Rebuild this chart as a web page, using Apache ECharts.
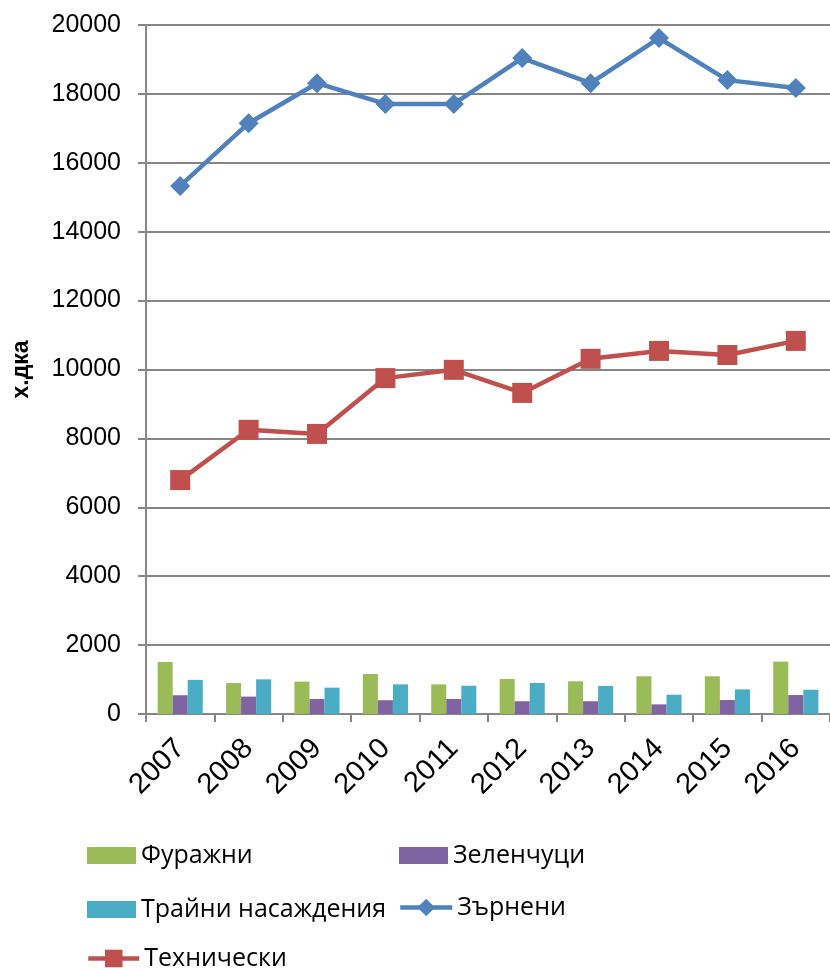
<!DOCTYPE html>
<html>
<head>
<meta charset="utf-8">
<script src="https://cdn.jsdelivr.net/npm/echarts@6/dist/echarts.min.js"></script>
<style>html,body{margin:0;padding:0;background:#fff}#c{width:830px;height:972px}</style>
</head>
<body>
<div id="c"></div>
<script>
const years = ['2007','2008','2009','2010','2011','2012','2013','2014','2015','2016'];
const furazhni = [1510, 900, 940, 1160, 860, 1015, 950, 1095, 1095, 1520];
const zelenchutsi = [545, 505, 435, 400, 435, 370, 370, 280, 405, 550];
const traini = [990, 1005, 765, 860, 820, 900, 815, 560, 715, 705];
const zarneni = [15330, 17150, 18310, 17710, 17710, 19040, 18310, 19620, 18400, 18170];
const tehnicheski = [6790, 8250, 8130, 9750, 9990, 9320, 10310, 10540, 10420, 10830];
const yTicks = [0, 2000, 4000, 6000, 8000, 10000, 12000, 14000, 16000, 18000, 20000];

const gray = '#868686';
const legendFont = {fontFamily: 'Open Sans', fontSize: 25, color: '#000'};
function lg(name, left, top, w, h, icon) {
  const o = {data: [name], left: left, top: top, itemWidth: w, itemHeight: h, itemGap: 0,
    textStyle: legendFont, selectedMode: false, padding: 0, lineStyle: {width: 4.5}};
  if (icon) o.icon = icon;
  return o;
}
const chart = echarts.init(document.getElementById('c'));
chart.setOption({
  animation: false,
  grid: {left: 146, right: 0, top: 25, bottom: 258},
  xAxis: {
    type: 'category', data: years, boundaryGap: true,
    axisLine: {lineStyle: {color: gray, width: 2}},
    axisTick: {show: true, length: 8, interval: 0, lineStyle: {color: gray, width: 2}},
    axisLabel: {rotate: 45, fontFamily: 'Liberation Sans', fontSize: 29, color: '#000', margin: 30, interval: 0}
  },
  yAxis: {
    type: 'value', min: 0, max: 20000, interval: 2000,
    name: 'х.дка', nameLocation: 'middle', nameGap: 113,
    nameTextStyle: {fontFamily: 'Liberation Sans', fontWeight: 'bold', fontSize: 23, color: '#000'},
    axisLine: {show: true, lineStyle: {color: gray, width: 2}},
    axisTick: {show: true, length: 8, lineStyle: {color: gray, width: 2}},
    splitLine: {lineStyle: {color: gray, width: 2}},
    axisLabel: {fontFamily: 'Liberation Sans', fontSize: 25, color: '#000', margin: 25,
      formatter: v => yTicks.includes(v) ? String(v) : ''}
  },
  legend: [
    lg('Фуражни', 87, 843, 49, 17, 'rect'),
    lg('Зеленчуци', 399, 843, 49, 17, 'rect'),
    lg('Трайни насаждения', 87, 897, 49, 17, 'rect'),
    lg('Зърнени', 398, 895, 52, 22),
    lg('Технически', 86, 946, 51, 22)
  ],
  series: [
    {name: 'Фуражни', type: 'bar', data: furazhni, itemStyle: {color: '#9BBB59'}, barGap: '0%', barCategoryGap: '34%'},
    {name: 'Зеленчуци', type: 'bar', data: zelenchutsi, itemStyle: {color: '#8064A2'}},
    {name: 'Трайни насаждения', type: 'bar', data: traini, itemStyle: {color: '#4BACC6'}},
    {name: 'Зърнени', type: 'line', data: zarneni, symbol: 'diamond', symbolSize: 20,
      lineStyle: {color: '#4F81BD', width: 4.5}, itemStyle: {color: '#4F81BD'}, z: 5},
    {name: 'Технически', type: 'line', data: tehnicheski, symbol: 'rect', symbolSize: 20,
      lineStyle: {color: '#C0504D', width: 4.5}, itemStyle: {color: '#C0504D'}, z: 5}
  ]
});
</script>
</body>
</html>
